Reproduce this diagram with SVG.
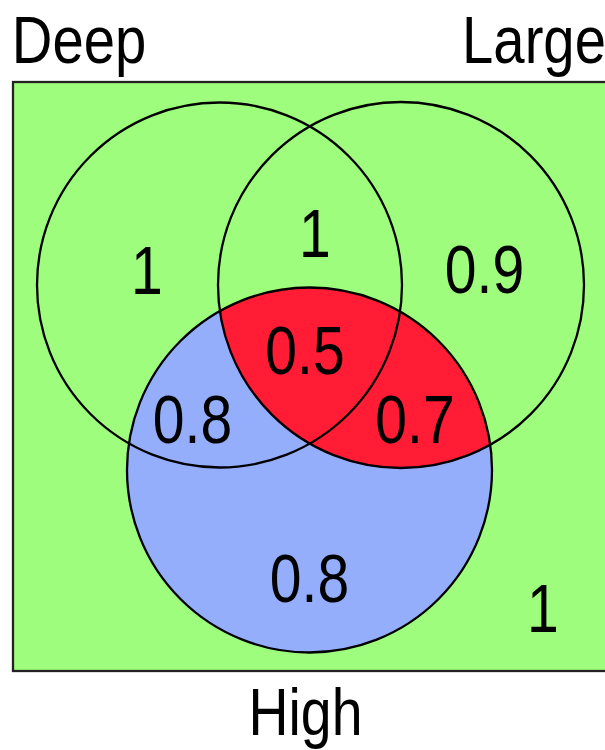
<svg xmlns="http://www.w3.org/2000/svg" width="605" height="750" viewBox="0 0 605 750">
<style>
text{font-family:"Liberation Sans",Arial,sans-serif;font-size:68px;fill:#000;text-anchor:middle}
.ring{fill:none;stroke:#000;stroke-width:2.3}
</style>
<defs>
<clipPath id="clipHigh"><circle cx="309.5" cy="470" r="182.5"/></clipPath>
</defs>
<rect width="605" height="750" fill="#fff"/>
<g id="universe">
<rect x="13" y="82" width="610" height="589" fill="#9ffd7d" stroke="#222" stroke-width="2.3"/>
</g>
<g id="high-fill">
<circle cx="309.5" cy="470" r="182.5" fill="#94aefc"/>
</g>
<g id="large-high-fill">
<circle cx="401" cy="285" r="183" fill="#ff1c34" clip-path="url(#clipHigh)"/>
</g>
<g id="deep"><circle class="ring" cx="219.5" cy="285" r="182.5"/></g>
<g id="large"><circle class="ring" cx="401" cy="285" r="183"/></g>
<g id="high"><circle class="ring" cx="309.5" cy="470" r="182.5"/></g>
<g id="labels">
<text transform="translate(79,63) scale(0.84,1)" style="font-size:67px">Deep</text>
<text transform="translate(534,63) scale(0.84,1)" style="font-size:67px">Large</text>
<text transform="translate(305.5,735) scale(0.84,1)" style="font-size:66px">High</text>
<text transform="translate(147,294) scale(0.84,1)">1</text>
<text transform="translate(315,257) scale(0.84,1)">1</text>
<text transform="translate(484.5,293) scale(0.84,1)">0.9</text>
<text transform="translate(305,374) scale(0.84,1)">0.5</text>
<text transform="translate(192.5,443) scale(0.84,1)">0.8</text>
<text transform="translate(415,443) scale(0.84,1)">0.7</text>
<text transform="translate(309.5,602) scale(0.84,1)">0.8</text>
<text transform="translate(543,632) scale(0.84,1)">1</text>
</g>
</svg>
